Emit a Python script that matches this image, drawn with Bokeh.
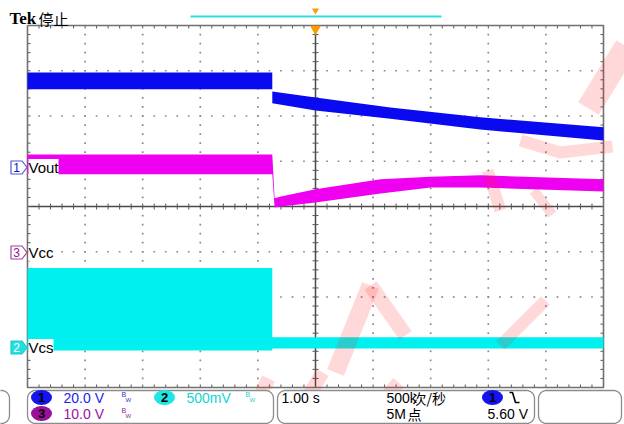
import numpy as np
from bokeh.plotting import figure
from bokeh.models import Range1d, Label
from bokeh.embed import file_html
from bokeh.resources import INLINE

# ---------------- data (time in s, level in graticule divisions) ----------------
blue_t = [-5.0, -0.75, -0.75, 0.0, 1.30, 2.86, 5.0]
blue_hi = [2.96, 2.96, 2.54, 2.41, 2.19, 1.97, 1.75]
blue_lo = [2.59, 2.59, 2.28, 2.12, 1.94, 1.70, 1.46]

mag_t = [-5.0, -0.75, -0.71, -0.60, 0.0, 1.13, 2.0, 2.86, 5.0]
mag_hi = [1.15, 1.15, 0.18, 0.22, 0.38, 0.60, 0.66, 0.69, 0.60]
mag_lo = [0.71, 0.71, -0.02, 0.00, 0.09, 0.29, 0.42, 0.42, 0.33]

cyan_t = [-5.0, -0.75, -0.75, 5.0]
cyan_hi = [-1.36, -1.36, -2.89, -2.89]
cyan_lo = [-3.18, -3.18, -3.14, -3.14]

ch_names = ["Vout", "Vcc", "Vcs"]
ch_nums = ["1", "3", "2"]
ch_scales = ["20.0 V", "10.0 V", "500mV"]
timebase = "1.00 s"
sample_rate = ["500k", "次/秒"]
record_len = ["5M", "点"]
trig_level = "5.60 V"

# ---------------- geometry helpers (pixel -> data) ----------------
X0, PXT = 315.0, 57.6
Y0, PXD = 206.0, 45.25


def tx(px):
    return (px - X0) / PXT


def dy(py):
    return (Y0 - py) / PXD


W, H = 624, 424
p = figure(width=W, height=H, x_range=Range1d(tx(0), tx(W)), y_range=Range1d(dy(H), dy(0)),
           min_border=0, x_axis_type=None, y_axis_type=None, toolbar_location=None,
           output_backend="svg", outline_line_color=None)
p.background_fill_color = "white"
p.border_fill_color = "white"

# ---------------- graticule ----------------
dot_x, dot_y = [], []
for xv in range(-4, 5):
    if xv == 0:
        continue
    for j in range(-19, 20):
        dot_x.append(float(xv)); dot_y.append(j / 5)
for yv in range(-3, 4):
    if yv == 0:
        continue
    for k in range(-24, 25):
        dot_x.append(k / 5); dot_y.append(float(yv))
p.scatter(dot_x, dot_y, marker="square", size=1.7, color="#8a8a8a", line_color=None)

# center axes
p.line([0, 0], [-4, 4], line_color="#4a4a4a", line_width=1.5)
p.line([-5, 5], [0, 0], line_color="#4a4a4a", line_width=1.5)
tx0, tx1, ty0, ty1 = [], [], [], []
for k in range(-24, 25):
    x = k / 5
    tx0.append(x); tx1.append(x); ty0.append(-3 / PXD); ty1.append(3 / PXD)
    tx0.append(x); tx1.append(x); ty0.append(4); ty1.append(4 - 3 / PXD)
    tx0.append(x); tx1.append(x); ty0.append(-4); ty1.append(-4 + 3 / PXD)
for j in range(-19, 20):
    y = j / 5
    tx0.append(-3 / PXT); tx1.append(3 / PXT); ty0.append(y); ty1.append(y)
    tx0.append(-5); tx1.append(-5 + 3 / PXT); ty0.append(y); ty1.append(y)
    tx0.append(5); tx1.append(5 - 3 / PXT); ty0.append(y); ty1.append(y)
p.segment(tx0, ty0, tx1, ty1, line_color="#555555", line_width=1)

# border
p.line([-5, 5, 5, -5, -5], [4, 4, -4, -4, 4], line_color="#707070", line_width=1.6)

# ---------------- traces ----------------
p.varea(x=cyan_t, y1=cyan_lo, y2=cyan_hi, fill_color="#00F0F0")
p.varea(x=mag_t, y1=mag_lo, y2=mag_hi, fill_color="#F000F0")
p.varea(x=blue_t, y1=blue_lo, y2=blue_hi, fill_color="#0A0AF0")

# ---------------- watermark (pale red strokes) ----------------
wm = [
    ([588, 626], [108, 46], 24),
    ([520, 560, 612], [140, 152, 146], 12),
    ([487, 500], [170, 210], 12),
    ([533, 552], [190, 214], 10),
    ([335, 370], [372, 285], 18),
    ([370, 405], [285, 335], 15),
    ([245, 268], [426, 378], 14),
    ([290, 322], [426, 372], 14),
    ([360, 398], [426, 382], 14),
    ([500, 545], [345, 300], 12),
]
for xs, ys, w in wm:
    p.line([tx(v) for v in xs], [dy(v) for v in ys], line_color="#ff2020", line_alpha=0.17,
           line_width=w, line_cap="butt", line_join="round")

# ---------------- top header ----------------
p.add_layout(Label(x=tx(9), y=dy(18), text="Tek", text_font="Liberation Serif", text_font_style="bold",
                   text_font_size="17px", text_color="black", text_baseline="middle"))
p.add_layout(Label(x=tx(38), y=dy(18), text="停止", text_font="Noto Sans CJK SC",
                   text_font_size="15px", text_color="black", text_baseline="middle"))
p.line([tx(190), tx(441)], [dy(16), dy(16)], line_color="#30dede", line_width=2)
p.scatter([0], [dy(10)], marker="inverted_triangle", size=7, color="#ff9a00", line_color=None)
p.scatter([0], [dy(28.5)], marker="inverted_triangle", size=11, color="#ff9a00", line_color=None)

# ---------------- channel ground markers + names ----------------
marker_y = [167, 252, 347]
marker_line = ["#4a5ad0", "#a040a8", "#20c8c8"]
marker_fill = ["white", "white", "#20e0e0"]
marker_text = ["#1010c0", "#9a109a", "white"]
for num, name, my, lc, fc, tc in zip(ch_nums, ch_names, marker_y, marker_line, marker_fill, marker_text):
    px = [10.5, 21.5, 26.5, 21.5, 10.5]
    py = [my - 6.5, my - 6.5, my, my + 6.5, my + 6.5]
    p.patch([tx(v) for v in px], [dy(v) for v in py], fill_color=fc, line_color=lc, line_width=1.2)
    p.add_layout(Label(x=tx(16), y=dy(my), text=num, text_font="Liberation Sans", text_font_size="12px",
                       text_color=tc, text_align="center", text_baseline="middle"))
    p.add_layout(Label(x=tx(28), y=dy(my), text=name, text_font="Liberation Sans", text_font_size="15px",
                       text_color="black", text_baseline="middle", background_fill_color="white"))


# ---------------- bottom status boxes ----------------
def rrect(l, r, t, b, rad, n=8):
    pts = []
    for cx, cy, a0, a1 in [(r - rad, t + rad, -90, 0), (r - rad, b - rad, 0, 90),
                           (l + rad, b - rad, 90, 180), (l + rad, t + rad, 180, 270)]:
        for a in np.linspace(a0, a1, n):
            pts.append((cx + rad * np.cos(np.radians(a)), cy + rad * np.sin(np.radians(a))))
    return [tx(x) for x, _ in pts], [dy(y) for _, y in pts]


for l, r in [(-30, 9), (27, 273), (277, 534), (538, 621)]:
    xs, ys = rrect(l, r, 390, 423, 8)
    p.patch(xs, ys, fill_color="white", line_color="#8c8c8c", line_width=1.3)

row1, row2 = 397, 413


def badge(cx, cy, fill, num):
    p.ellipse([tx(cx)], [dy(cy)], width=21, height=15, width_units="screen", height_units="screen",
              fill_color=fill, line_color=None)
    p.add_layout(Label(x=tx(cx), y=dy(cy), text=num, text_font="Liberation Sans", text_font_size="13px",
                       text_font_style="bold", text_color="black", text_align="center",
                       text_baseline="middle"))


def txt(x, y, s, color, size="14px", font="Liberation Sans"):
    p.add_layout(Label(x=tx(x), y=dy(y), text=s, text_font=font, text_font_size=size,
                       text_color=color, text_baseline="middle"))


def bw(x, y, color):
    txt(x, y - 3, "B", color, "7px")
    txt(x + 4, y + 2, "W", color, "6px")


badge(41, row1, "#1414f0", "1")
txt(63, row1, ch_scales[0], "#1c1cf0")
bw(121, row1, "#3030f0")
badge(164, row1, "#22e4e4", "2")
txt(186, row1, ch_scales[2], "#10d4d4")
bw(245, row1, "#20d0d0")
badge(41, row2, "#9a109a", "3")
txt(63, row2, ch_scales[1], "#a010a0")
bw(121, row2, "#a020a0")

txt(281, row1, timebase, "black")
txt(386, row1, sample_rate[0], "black")
txt(412, row1, sample_rate[1], "black", "14px", "Noto Sans CJK SC")
txt(386, row2, record_len[0], "black")
txt(407, row2, record_len[1], "black", "14px", "Noto Sans CJK SC")
badge(492, row1, "#1414f0", "1")
p.line([tx(v) for v in [509, 512, 515, 519]], [dy(v) for v in [392, 392, 402, 402]],
       line_color="black", line_width=1.6)
txt(487, row2, trig_level, "black")

open("out.html", "w").write(file_html(p, INLINE))
